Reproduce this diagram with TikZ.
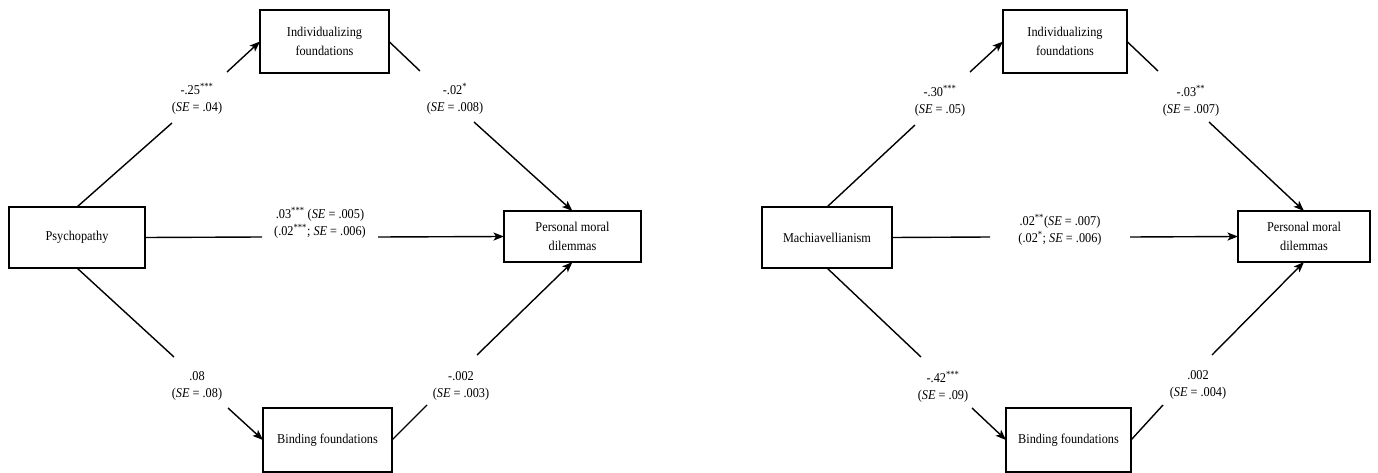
\documentclass[tikz,border=0pt]{standalone}
\usepackage{fontspec}
\setmainfont{Liberation Serif}[FakeStretch=0.91]
\usetikzlibrary{arrows.meta}
\begin{document}
\begin{tikzpicture}[x=1pt,y=-1pt,
  box/.style={draw, line width=1.6pt, inner sep=0pt, outer sep=0pt, align=center,
    font=\fontsize{13.5}{19}\selectfont},
  lbl/.style={align=center, inner sep=0pt, font=\fontsize{13.5}{17}\selectfont},
  link/.style={line width=1.4pt},
  arr/.style={link, -{Stealth[length=10.5pt,width=8pt,inset=2.5pt]}}]
\useasboundingbox (0,0) rectangle (1378,473);

% ---------- Psychopathy model ----------
\node[box, minimum width=136pt, minimum height=61pt] (psy)   at (77,237.5)    {Psychopathy};
\node[box, minimum width=129pt, minimum height=63pt] (indA)  at (324.5,41.5)  {Individualizing\\foundations};
\node[box, minimum width=129pt, minimum height=64pt] (bindA) at (327.5,440)   {Binding foundations};
\node[box, minimum width=137pt, minimum height=51pt] (pmdA)  at (572.5,236.5) {Personal moral\\dilemmas};

\coordinate (a1s) at (172,123); \coordinate (a1e) at (227,72);
\coordinate (a2s) at (420,71);  \coordinate (a2e) at (474,122);
\coordinate (a3s) at (262,237); \coordinate (a3e) at (378,237);
\coordinate (a4s) at (174,357); \coordinate (a4e) at (228,408);
\coordinate (a5s) at (427,405); \coordinate (a5e) at (477,355);

\draw[link] (psy.north) -- (a1s);  \draw[arr] (a1e) -- (indA.west);
\draw[link] (indA.east) -- (a2s);  \draw[arr] (a2e) -- (pmdA.north);
\draw[link] (psy.east) -- (a3s);   \draw[arr] (a3e) -- (pmdA.west);
\draw[link] (psy.south) -- (a4s);  \draw[arr] (a4e) -- (bindA.west);
\draw[link] (bindA.east) -- (a5s); \draw[arr] (a5e) -- (pmdA.south);

\node[lbl] (lA1) at (197,99)  {-.25\textsuperscript{***}\\(\textit{SE} = .04)};
\node[lbl] (lA2) at (455,99)  {-.02\textsuperscript{*}\\(\textit{SE} = .008)};
\node[lbl] (lA3) at (320,223) {.03\textsuperscript{***} (\textit{SE} = .005)\\(.02\textsuperscript{***}; \textit{SE} = .006)};
\node[lbl] (lA4) at (197,386) {.08\\(\textit{SE} = .08)};
\node[lbl] (lA5) at (461,386) {-.002\\(\textit{SE} = .003)};

% ---------- Machiavellianism model ----------
\node[box, minimum width=130pt, minimum height=61pt] (mach)  at (827,237.5)   {Machiavellianism};
\node[box, minimum width=124pt, minimum height=63pt] (indB)  at (1065,41.5)   {Individualizing\\foundations};
\node[box, minimum width=125pt, minimum height=64pt] (bindB) at (1068.5,440)  {Binding foundations};
\node[box, minimum width=132pt, minimum height=51pt] (pmdB)  at (1304,236.5)  {Personal moral\\dilemmas};

\coordinate (b1s) at (915,125);  \coordinate (b1e) at (970,72);
\coordinate (b2s) at (1158,71);  \coordinate (b2e) at (1209,122);
\coordinate (b3s) at (990,237);  \coordinate (b3e) at (1130,237);
\coordinate (b4s) at (921,357);  \coordinate (b4e) at (972,408);
\coordinate (b5s) at (1163,405); \coordinate (b5e) at (1212,355);

\draw[link] (mach.north) -- (b1s);  \draw[arr] (b1e) -- (indB.west);
\draw[link] (indB.east) -- (b2s);   \draw[arr] (b2e) -- (pmdB.north);
\draw[link] (mach.east) -- (b3s);   \draw[arr] (b3e) -- (pmdB.west);
\draw[link] (mach.south) -- (b4s);  \draw[arr] (b4e) -- (bindB.west);
\draw[link] (bindB.east) -- (b5s);  \draw[arr] (b5e) -- (pmdB.south);

\node[lbl] (lB1) at (940,101)  {-.30\textsuperscript{***}\\(\textit{SE} = .05)};
\node[lbl] (lB2) at (1191,101) {-.03\textsuperscript{**}\\(\textit{SE} = .007)};
\node[lbl] (lB3) at (1060,230) {.02\textsuperscript{**}(\textit{SE} = .007)\\(.02\textsuperscript{*}; \textit{SE} = .006)};
\node[lbl] (lB4) at (943,387)  {-.42\textsuperscript{***}\\(\textit{SE} = .09)};
\node[lbl] (lB5) at (1198,385) {.002\\(\textit{SE} = .004)};
\end{tikzpicture}
\end{document}
